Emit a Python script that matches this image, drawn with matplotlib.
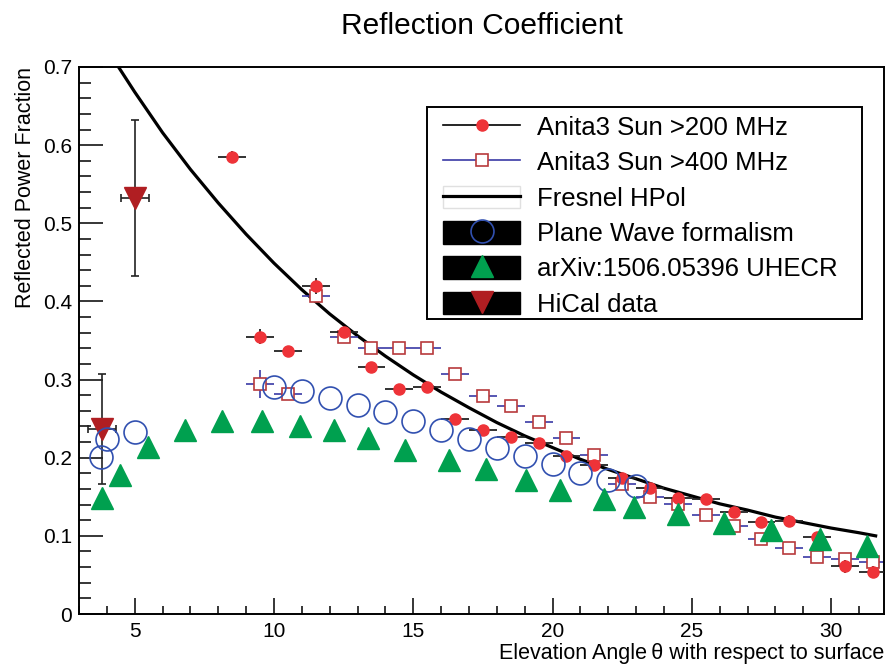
import matplotlib
matplotlib.use("Agg")
import matplotlib.pyplot as plt
from matplotlib.lines import Line2D
from matplotlib.patches import Rectangle
from matplotlib.legend_handler import HandlerTuple
from matplotlib.ticker import MultipleLocator

plt.rcParams['font.family'] = ['Liberation Sans', 'DejaVu Sans']

# Anita3 sun reflections, > 200 MHz
a200_x = [8.5, 9.5, 10.5, 11.5, 12.5, 13.5, 14.5, 15.5, 16.5, 17.5, 18.5, 19.5,
          20.5, 21.5, 22.5, 23.5, 24.5, 25.5, 26.5, 27.5, 28.5, 29.5, 30.5, 31.5]
a200_y = [0.585, 0.355, 0.336, 0.420, 0.361, 0.316, 0.288, 0.290, 0.250, 0.235, 0.226, 0.219,
          0.202, 0.191, 0.174, 0.161, 0.148, 0.147, 0.131, 0.118, 0.119, 0.099, 0.061, 0.054]
a200_yerr = [0.008, 0.010, 0.006, 0.010, 0.006, 0.006, 0.006, 0.006, 0.006, 0.006, 0.006, 0.006,
             0.006, 0.006, 0.006, 0.006, 0.006, 0.006, 0.006, 0.006, 0.008, 0.006, 0.008, 0.008]

# Anita3 sun reflections, > 400 MHz
a400_x = [9.5, 10.5, 11.5, 12.5, 13.5, 14.5, 15.5, 16.5, 17.5, 18.5, 19.5, 20.5,
          21.5, 22.5, 23.5, 24.5, 25.5, 26.5, 27.5, 28.5, 29.5, 30.5, 31.5]
a400_y = [0.294, 0.282, 0.407, 0.355, 0.340, 0.340, 0.340, 0.307, 0.279, 0.266, 0.246, 0.225,
          0.203, 0.167, 0.150, 0.141, 0.127, 0.112, 0.096, 0.084, 0.073, 0.071, 0.067]
a400_yerr = [0.018, 0.006, 0.006, 0.006, 0.006, 0.006, 0.006, 0.006, 0.006, 0.006, 0.006, 0.006,
             0.006, 0.006, 0.006, 0.006, 0.006, 0.006, 0.006, 0.006, 0.006, 0.006, 0.006]

# Fresnel HPol curve
fres_x = [4.0, 4.4, 5, 6, 7, 8, 9, 10, 11, 12, 13, 14, 15, 16, 17, 18, 19, 20,
          21, 22, 23, 24, 25, 26, 27, 28, 29, 30, 31, 31.6]
fres_y = [0.724, 0.701, 0.668, 0.616, 0.569, 0.526, 0.486, 0.449, 0.415, 0.384, 0.356, 0.330,
          0.306, 0.284, 0.264, 0.245, 0.228, 0.213, 0.198, 0.185, 0.173, 0.161, 0.151, 0.141,
          0.133, 0.124, 0.117, 0.110, 0.104, 0.100]

# plane wave formalism
pw_x = [3.8, 4.0, 5.0, 10, 11, 12, 13, 14, 15, 16, 17, 18, 19, 20, 21, 22, 23]
pw_y = [0.201, 0.224, 0.233, 0.291, 0.286, 0.277, 0.268, 0.258, 0.247, 0.235, 0.224,
        0.213, 0.202, 0.192, 0.181, 0.172, 0.164]

# arXiv:1506.05396 UHECR
cr_x = [3.82, 4.47, 5.49, 6.8, 8.15, 9.58, 10.94, 12.16, 13.38, 14.7, 16.27, 17.6,
        19.05, 20.27, 21.83, 22.93, 24.5, 26.16, 27.84, 29.6, 31.28]
cr_y = [0.148, 0.178, 0.214, 0.236, 0.247, 0.247, 0.240, 0.235, 0.225, 0.210, 0.197, 0.186,
        0.171, 0.159, 0.147, 0.137, 0.128, 0.116, 0.107, 0.0955, 0.087]

# HiCal
hc_x = [3.82, 5.0]
hc_y = [0.237, 0.532]
hc_yerr = [0.070, 0.100]

red = '#ee3338'
sq_edge = '#b83a3c'
navy = '#3a3aa6'
blue = '#3150b0'
green = '#00a04f'
hical = '#b01e22'

fig = plt.figure(figsize=(8.86, 6.64), dpi=100)
ax = fig.add_axes([79 / 886, 50 / 664, 805 / 886, 547 / 664])

ax.plot(fres_x, fres_y, color='black', lw=2.3, zorder=1)

ax.errorbar(a400_x, a400_y, xerr=0.5, yerr=a400_yerr, fmt='s', ms=8.5, mfc='white',
            mec=sq_edge, mew=1.2, ecolor=navy, elinewidth=1.2, capsize=0, zorder=2)
ax.errorbar(a200_x, a200_y, xerr=0.5, yerr=a200_yerr, fmt='o', ms=8, mfc=red, mec=red,
            ecolor='#222222', elinewidth=1.3, capsize=0, zorder=3)
ax.errorbar(hc_x, hc_y, xerr=0.5, yerr=hc_yerr, fmt='v', ms=16, mfc=hical, mec=hical,
            ecolor='#222222', elinewidth=1.2, capsize=3, capthick=1.2, zorder=4)
ax.plot(pw_x, pw_y, 'o', ms=16.5, mfc='none', mec=blue, mew=1.2, zorder=5)
ax.plot(cr_x, cr_y, '^', ms=16, mfc=green, mec=green, zorder=6)

ax.set_xlim(3, 31.9)
ax.set_ylim(0, 0.7)
ax.xaxis.set_major_locator(MultipleLocator(5))
ax.xaxis.set_minor_locator(MultipleLocator(1))
ax.yaxis.set_major_locator(MultipleLocator(0.1))
ax.yaxis.set_minor_locator(MultipleLocator(0.02))
ax.yaxis.set_major_formatter(plt.FuncFormatter(lambda v, p: '0' if abs(v) < 1e-9 else f'{v:.1f}'))
ax.tick_params(axis='both', which='both', direction='in', top=False, right=False,
               labelsize=15, width=1.1)
ax.tick_params(axis='x', which='major', length=11.5, pad=6)
ax.tick_params(axis='x', which='minor', length=5.8)
ax.tick_params(axis='y', which='major', length=17, pad=5)
ax.tick_params(axis='y', which='minor', length=8.6)
for s in ax.spines.values():
    s.set_linewidth(1.4)

ax.set_title('Reflection Coefficient', fontsize=21.5, pad=24)
ax.set_xlabel('Elevation Angle\u2009θ with respect to surface', fontsize=15.5, loc='right', labelpad=1)
ax.set_ylabel('Reflected Power Fraction', fontsize=15.5, loc='top', labelpad=5)

# legend
h200 = Line2D([], [], color='black', lw=1.2, marker='o', ms=8, mfc=red, mec=red)
h400 = Line2D([], [], color=navy, lw=1.2, marker='s', ms=8.5, mfc='white', mec=sq_edge, mew=1.2)
hfres = (Rectangle((0, 0), 1, 1, fc='white', ec='#e0e0e0', lw=1.0),
         Line2D([], [], color='black', lw=2.3))
hpw = (Rectangle((0, 0), 1, 1, fc='black', ec='black'),
       Line2D([], [], ls='none', marker='o', ms=16.5, mfc='none', mec=blue, mew=1.2))
hcr = (Rectangle((0, 0), 1, 1, fc='black', ec='black'),
       Line2D([], [], ls='none', marker='^', ms=16, mfc=green, mec=green))
hhc = (Rectangle((0, 0), 1, 1, fc='black', ec='black'),
       Line2D([], [], ls='none', marker='v', ms=16, mfc=hical, mec=hical))
labels = ['Anita3 Sun >200 MHz', 'Anita3 Sun >400 MHz', 'Fresnel HPol',
          'Plane Wave formalism', 'arXiv:1506.05396 UHECR', 'HiCal data']
leg = fig.legend([h200, h400, hfres, hpw, hcr, hhc], labels,
                 handler_map={tuple: HandlerTuple(ndivide=1)},
                 loc='upper left', bbox_to_anchor=(443 / 886, 1 - 115 / 664),
                 frameon=False, fontsize=18.5, borderpad=0, borderaxespad=0,
                 handlelength=3.0, handleheight=0.97, handletextpad=0.66, labelspacing=0.4)
fig.patches.append(Rectangle((427 / 886, 1 - 319 / 664), 435 / 886, 212 / 664,
                             transform=fig.transFigure, fc='white', ec='black', lw=1.4, zorder=5))
leg.set_zorder(6)

fig.savefig('out.png', dpi=100)
